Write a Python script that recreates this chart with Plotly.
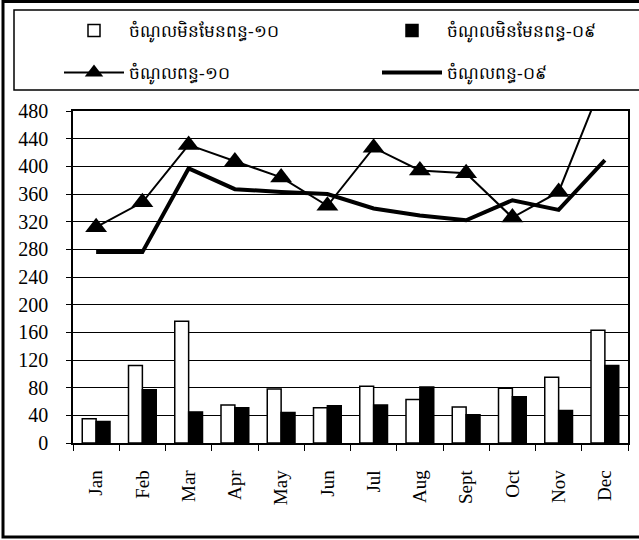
import plotly.graph_objects as go

months = ["Jan", "Feb", "Mar", "Apr", "May", "Jun", "Jul", "Aug", "Sept", "Oct", "Nov", "Dec"]
nontax_10 = [35, 112, 176, 55, 78, 51, 82, 63, 52, 79, 95, 163]
nontax_09 = [31, 77, 45, 51, 44, 54, 55, 81, 41, 67, 47, 112]
tax_10 = [312, 348, 431, 407, 384, 343, 427, 394, 390, 326, 363, 530]
tax_09 = [276, 276, 397, 367, 363, 360, 339, 329, 322, 351, 337, 409]
names = ["ចំណូលមិនមែនពន្ធ-១០", "ចំណូលមិនមែនពន្ធ-០៩", "ចំណូលពន្ធ-១០", "ចំណូលពន្ធ-០៩"]
yticks = list(range(0, 481, 40))

fig = go.Figure()
fig.add_bar(x=months, y=nontax_10, name=names[0], legend="legend",
            marker=dict(color="white", line=dict(color="black", width=1.5)))
fig.add_bar(x=months, y=nontax_09, name=names[1], legend="legend2",
            marker=dict(color="black", line=dict(color="black", width=1.5)))
fig.add_scatter(x=months, y=tax_10, name=names[2], mode="lines+markers", legend="legend3",
                line=dict(color="black", width=2),
                marker=dict(symbol="triangle-up", size=19, color="black"))
fig.add_scatter(x=months, y=tax_09, name=names[3], mode="lines", legend="legend4",
                line=dict(color="black", width=4))

W, H = 639, 540
l, r, t, b = 73, 11, 111, 97
pw, ph = W - l - r, H - t - b

def px_x(p):
    return (p - l) / pw

def px_y(p):
    return (H - b - p) / ph

leg_common = dict(orientation="v", xanchor="left", yanchor="top",
                  bgcolor="rgba(0,0,0,0)", borderwidth=0,
                  font=dict(size=17), itemwidth=60)

fig.update_layout(
    width=W, height=H,
    margin=dict(l=l, r=r, t=t, b=b, autoexpand=False),
    paper_bgcolor="white", plot_bgcolor="white",
    barmode="group", bargap=0.4, bargroupgap=0,
    font=dict(family="Liberation Serif", color="black", size=16),
    legend=dict(x=px_x(59), y=px_y(13), **leg_common),
    legend2=dict(x=px_x(377), y=px_y(13), **leg_common),
    legend3=dict(x=px_x(59), y=px_y(55), **leg_common),
    legend4=dict(x=px_x(377), y=px_y(55), **leg_common),
    showlegend=True,
)
fig.update_yaxes(range=[0, 480], tickvals=yticks, showgrid=True, gridcolor="black",
                 gridwidth=1, showline=True, linecolor="black", linewidth=1.5,
                 mirror=True, ticks="outside", ticklen=5, tickcolor="black",
                 ticklabelstandoff=14,
                 tickfont=dict(size=20, family="Liberation Serif"), zeroline=False)
fig.update_xaxes(range=[-0.5, len(months) - 0.5],
                 showline=True, linecolor="black", linewidth=1.5, mirror=True,
                 ticks="outside", ticklen=6, tickcolor="black", tickson="boundaries",
                 ticklabelstandoff=18,
                 tickangle=-90, tickfont=dict(size=19, family="Liberation Serif"),
                 showgrid=False)

# legend frame and outer frame
fig.add_shape(type="rect", xref="paper", yref="paper",
              x0=px_x(14), x1=px_x(648), y0=px_y(90), y1=px_y(10),
              line=dict(color="black", width=1.5), layer="below")
fig.add_shape(type="rect", xref="paper", yref="paper",
              x0=px_x(3), x1=px_x(648), y0=px_y(537), y1=px_y(1.5),
              line=dict(color="black", width=3), layer="below")

fig.write_html("out.html", config={"displayModeBar": False},
               post_script="document.body.style.margin='0';document.body.style.overflow='hidden';")
